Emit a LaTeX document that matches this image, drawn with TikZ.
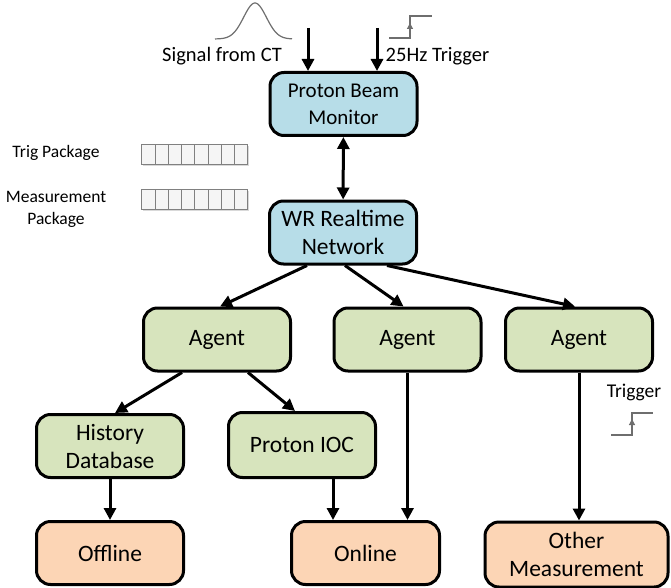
\documentclass[tikz,border=0pt]{standalone}
\usepackage{fontspec}
\setmainfont{Carlito}
\usepackage{tikz}
\usetikzlibrary{arrows.meta}
\usetikzlibrary{shadows}
\definecolor{beamblue}{HTML}{B7DDE8}
\definecolor{agentgreen}{HTML}{D7E4BD}
\definecolor{outorange}{HTML}{FCD5B5}
\definecolor{siggray}{HTML}{6E6E6E}

\begin{document}
\begin{tikzpicture}[x=1pt,y=-1pt]
\tikzstyle{every node}=[font=\fontsize{23.5}{28}\selectfont]
\tikzstyle{box}=[draw, line width=3pt, rounded corners=14pt, minimum width=147pt, minimum height=63pt, align=center, inner sep=2pt]
\tikzstyle{link}=[line width=3pt, -{Triangle[length=12pt,width=12pt]}]
\tikzstyle{sig}=[draw=siggray, line width=1.2pt]
\tikzstyle{cell}=[draw=gray, fill=gray!8, line width=1pt, minimum width=13.25pt, minimum height=20pt, inner sep=0pt, drop shadow={shadow xshift=1.5pt, shadow yshift=-1.5pt, opacity=.3}]
\useasboundingbox (0,0) rectangle (671,588);

\node (pbm) [box, fill=beamblue, font=\fontsize{21}{27}\selectfont] at (343.5,104) {Proton Beam\\Monitor};
\node (wr) [box, fill=beamblue] at (343,232.5) {WR Realtime\\Network};
\node (ag1) [box, fill=agentgreen] at (217,339.5) {Agent};
\node (ag2) [box, fill=agentgreen] at (407.5,339.5) {Agent};
\node (ag3) [box, fill=agentgreen] at (579,339.5) {Agent};
\node (hdb) [box, fill=agentgreen] at (110,446) {History\\Database};
\node (ioc) [box, fill=agentgreen, minimum height=65pt] at (302,445) {Proton IOC};
\node (off) [box, fill=outorange] at (110,553) {Offline};
\node (onl) [box, fill=outorange, minimum width=148pt] at (365.5,553) {Online};
\node (oth) [box, fill=outorange, minimum width=183pt, minimum height=65pt] at (576.5,554.5) {Other\\Measurement};

% inputs of the monitor
\node (ctlabel) [font=\fontsize{20.5}{25}\selectfont] at (222,56) {Signal from CT};
\node (trglabel) [font=\fontsize{20.5}{25}\selectfont] at (437.5,56) {25Hz Trigger};
\coordinate (ctin) at (308,28);
\coordinate (trgin) at (377,28);
\draw[link] (ctin) -- (ctin |- pbm.north);
\draw[link] (trgin) -- (trgin |- pbm.north);
\draw[sig] plot[domain=215:292, samples=80, smooth] (\x, {39-36*exp(-(((\x-255)/16)^2))});
\draw[sig] (389,38) -- (410,38) -- (410,16) -- (432,16);
\draw[sig, -{Triangle[length=6pt,width=6pt]}] (410,38) -- (410,23);

% packages
\node (trigpkg) [font=\fontsize{17.5}{22}\selectfont] at (56,153) {Trig Package};
\node (measpkg) [font=\fontsize{17.5}{22}\selectfont, align=center] at (56,209) {Measurement\\Package};
\foreach \i in {0,...,7} {
  \node (trig\i) [cell] at ({148.6+13.25*\i},155) {};
  \node (meas\i) [cell] at ({148.6+13.25*\i},199) {};
}

% links
\draw[line width=3pt, {Triangle[length=12pt,width=12pt]}-{Triangle[length=12pt,width=12pt]}] (pbm) -- (wr);
\draw[link] ([xshift=-36pt]wr.south) -- ([xshift=3pt]ag1.north);
\draw[link] ([xshift=2pt]wr.south) -- ([xshift=-4pt]ag2.north);
\draw[link] ([xshift=44pt]wr.south) -- ([xshift=-4pt]ag3.north);
\draw[link] ([xshift=-35pt]ag1.south) -- ([xshift=5pt]hdb.north);
\draw[link] ([xshift=31pt]ag1.south) -- ([xshift=-7pt]ioc.north);
\draw[link] (hdb) -- (off);
\draw[link] ([xshift=31pt]ioc.south) -- ([xshift=31pt]ioc.south |- onl.north);
\draw[link] (ag2) -- (ag2 |- onl.north);
\draw[link] (ag3) -- (ag3 |- oth.north);

% trigger of the other measurement
\node (trglabel2) [font=\fontsize{19.5}{24}\selectfont] at (634,392) {Trigger};
\draw[sig] (611,435) -- (632,435) -- (632,413) -- (653,413);
\draw[sig, -{Triangle[length=6pt,width=6pt]}] (632,435) -- (632,419);
\end{tikzpicture}
\end{document}
